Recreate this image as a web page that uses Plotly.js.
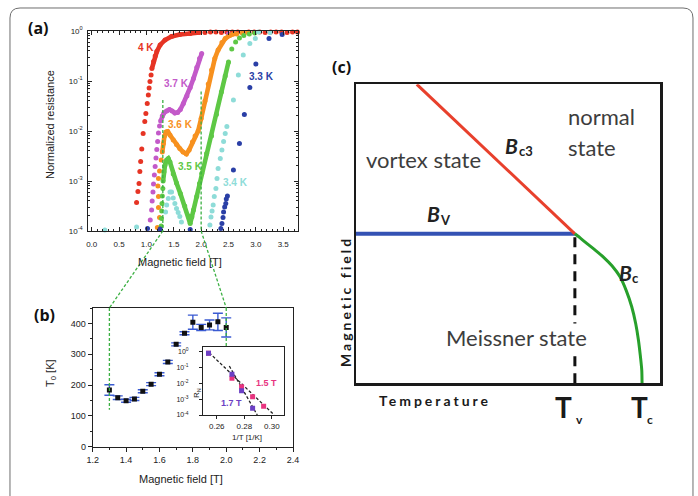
<!DOCTYPE html>
<html>
<head>
<meta charset="utf-8">
<script src="https://cdn.plot.ly/plotly-3.0.1.min.js"></script>
<style>
  html, body { margin: 0; padding: 0; background: #fff; }
  #fig { width: 698px; height: 496px; }
</style>
</head>
<body>
<div id="fig"></div>
<script>
// ---------- (a) normalized resistance vs field, stored as log10(R) ----------
// 4 K
const k40_lineB   = [1.10, 1.13, 1.16, 1.19, 1.25, 1.34, 1.46, 1.61, 1.80, 1.97];
const k40_lineLog = [-0.75, -0.61, -0.50, -0.41, -0.28, -0.18, -0.11, -0.07, -0.05, -0.03];
const k40_dotB    = [0.82, 0.845, 0.865, 0.88, 0.895, 0.915, 0.94, 0.97, 0.99, 1.015, 1.035, 1.05, 1.065, 1.085,
                     2.07, 2.17, 2.27, 2.37, 2.47, 2.57, 2.67, 2.77, 2.87, 2.97, 3.07, 3.17, 3.27, 3.37, 3.47, 3.57, 3.67, 3.76];
const k40_dotLog  = [-3.43, -3.21, -3.05, -2.81, -2.61, -2.36, -2.05, -1.81, -1.65, -1.45, -1.28, -1.14, -1.01, -0.88,
                     -0.03, -0.02, -0.02, -0.03, -0.02, -0.02, -0.02, -0.03, -0.02, -0.02, -0.02, -0.03, -0.02, -0.02, -0.02, -0.03, -0.02, -0.02];
// 3.7 K
const k37_lineB   = [1.26, 1.29, 1.32, 1.37, 1.42, 1.47, 1.52, 1.57, 1.62, 1.675, 1.74, 1.80, 1.86, 1.92, 1.97, 2.01];
const k37_lineLog = [-1.80, -1.70, -1.64, -1.60, -1.57, -1.60, -1.64, -1.63, -1.57, -1.45, -1.30, -1.13, -0.95, -0.73, -0.55, -0.45];
const k37_dotB    = [1.07, 1.095, 1.105, 1.12, 1.13, 1.145, 1.16, 1.175, 1.19, 1.205, 1.22, 1.24, 2.50];
const k37_dotLog  = [-3.78, -3.58, -3.40, -3.22, -3.06, -2.88, -2.71, -2.54, -2.37, -2.21, -2.04, -1.90, -0.06];
// 3.6 K
const k36_lineB   = [1.29, 1.31, 1.33, 1.36, 1.39, 1.43, 1.49, 1.55, 1.61, 1.67, 1.73, 1.78, 1.84, 1.89, 1.945, 2.00,
                     2.07, 2.13, 2.19, 2.25, 2.31, 2.38, 2.44, 2.52, 2.59];
const k36_lineLog = [-2.42, -2.25, -2.10, -2.02, -2.01, -2.08, -2.18, -2.27, -2.35, -2.42, -2.46, -2.38, -2.22, -2.10, -2.00, -1.75,
                     -1.40, -1.06, -0.78, -0.55, -0.38, -0.23, -0.15, -0.09, -0.06];
const k36_dotB    = [1.20, 1.24, 1.22, 1.22, 1.21, 1.22, 1.24, 1.27, 2.65, 2.75, 2.85];
const k36_dotLog  = [-3.93, -3.73, -3.53, -3.31, -3.10, -2.95, -2.80, -2.58, -0.06, -0.04, -0.03];
// 3.5 K
const k35_lineB   = [1.305, 1.32, 1.34, 1.37, 1.40, 1.43, 1.49, 1.55, 1.62, 1.70, 1.77, 1.80, 1.83, 1.86, 1.92, 1.97, 2.01,
                     2.10, 2.19, 2.28, 2.37, 2.44, 2.50];
const k35_lineLog = [-3.00, -2.82, -2.68, -2.58, -2.55, -2.62, -2.86, -3.04, -3.25, -3.50, -3.70, -3.85, -3.72, -3.58, -3.31, -3.05, -2.85,
                     -2.45, -2.10, -1.67, -1.22, -0.90, -0.62];
const k35_dotB    = [1.27, 1.275, 1.28, 1.285, 1.29, 1.30, 2.56, 2.63, 2.70, 2.78, 2.88, 2.98];
const k35_dotLog  = [-3.90, -3.75, -3.60, -3.45, -3.30, -3.15, -0.36, -0.22, -0.14, -0.09, -0.06, -0.04];
// 3.4 K
const k34_dotB    = [0.24, 0.82, 1.35, 1.37, 1.40, 1.43, 1.46, 1.49, 1.52, 1.55, 1.58, 1.61, 1.64,
                     2.16, 2.18, 2.20, 2.22, 2.24, 2.27, 2.29, 2.31, 2.35, 2.38, 2.41, 2.44, 2.47,
                     2.59, 2.68, 2.77, 2.89, 2.99, 3.05, 3.26];
const k34_dotLog  = [-3.98, -3.92, -3.62, -3.48, -3.35, -3.22, -3.22, -3.34, -3.45, -3.55, -3.63, -3.71, -3.82,
                     -3.88, -3.72, -3.60, -3.48, -3.31, -3.15, -2.95, -2.75, -2.55, -2.38, -2.21, -2.05, -1.91,
                     -1.38, -0.88, -0.48, -0.25, -0.15, -0.02, -0.03];
// 3.3 K
const k33_dotB    = [1.02, 1.25, 1.80, 2.36, 2.38, 2.40, 2.41, 2.43, 2.45, 2.46, 2.48, 2.59, 2.70, 2.79, 2.89, 3.00, 3.24, 3.48];
const k33_dotLog  = [-3.95, -3.96, -3.97, -3.95, -3.85, -3.73, -3.62, -3.52, -3.45, -3.36, -3.30, -2.78, -2.25, -1.67, -1.13, -0.66, -0.15, -0.07];

const aTickVals  = [0, 0.5, 1, 1.5, 2, 2.5, 3, 3.5];
const aTickText  = ['0.0', '0.5', '1.0', '1.5', '2.0', '2.5', '3.0', '3.5'];
const aDecades   = [-4, -3, -2, -1, 0];

// ---------- (b) T0 vs field ----------
const bField  = [1.30, 1.35, 1.40, 1.45, 1.50, 1.55, 1.60, 1.65, 1.70, 1.75, 1.80, 1.85, 1.90, 1.95, 2.00];
const bT0     = [184, 159, 149, 155, 180, 203, 235, 275, 332, 368, 404, 387, 395, 405, 387];
const bT0err  = [17, 6, 5, 5, 5, 5, 5, 5, 5, 5, 23, 10, 16, 28, 31];

// inset: R_N vs 1/T at 1.5 T and 1.7 T (log10 R_N)
const inv15   = [0.254, 0.271, 0.278, 0.286, 0.294];
const logRN15 = [-0.10, -1.68, -2.22, -2.85, -3.44];
const inv17   = [0.254, 0.271, 0.278, 0.286];
const logRN17 = [-0.10, -1.43, -2.47, -3.58];
const fit15x  = [0.2545, 0.3017];
const fit15y  = [-0.06, -4.0];
const fit17x  = [0.2691, 0.2894];
const fit17y  = [-0.905, -4.0];

// zoom window connecting (a) and (b)
const zoomFields   = [1.3, 2.0];
const zoomTopLogR  = [-1.38, -1.21];
const zoomLowT0    = [120, 323];

// ---------- (c) schematic phase diagram (normalized T, B) ----------
const bc3T = [0.20, 0.72];
const bc3B = [1.00, 0.50];
const bvT  = [0.00, 0.72];
const bvB  = [0.50, 0.50];
const bcT  = [0.720, 0.740, 0.759, 0.786, 0.813, 0.842, 0.868, 0.889, 0.907, 0.920, 0.929, 0.935, 0.940, 0.941];
const bcB  = [0.500, 0.484, 0.468, 0.446, 0.423, 0.393, 0.357, 0.310, 0.256, 0.200, 0.145, 0.095, 0.044, 0.000];
const tvT  = [0.72, 0.72];
const tvB  = [0.00, 0.50];

// ---------- geometry (pixels of the 698x496 canvas) ----------
const W = 698, H = 496;
const fx = p => p / W;
const fy = p => 1 - p / H;
const GA = {px0: 88.3, px1: 298, r0: -0.062, r1: 3.77, py0: 231, py1: 31, l0: -4, l1: 0};
const GB = {px0: 92.7, px1: 293, r0: 1.2, r1: 2.4, py0: 446.7, py1: 308, l0: 0, l1: 450};
const GI = {px0: 203, px1: 284.3, r0: 0.25, r1: 0.309, py0: 415, py1: 347.3, l0: -4, l1: 0.28};
const GC = {px0: 356, px1: 660, py0: 383.3, py1: 84.3};
const mapX = (g, v) => g.px0 + (v - g.r0) / (g.r1 - g.r0) * (g.px1 - g.px0);
const mapY = (g, v) => g.py0 + (v - g.l0) / (g.l1 - g.l0) * (g.py1 - g.py0);

const ARIAL = 'Liberation Sans, Arial, sans-serif';
const SANS  = 'Lato, Open Sans, sans-serif';
const pow10 = a => a.map(v => Math.pow(10, v));

// ---------- traces ----------
const traces = [];
const series = [
  {line: [k40_lineB, k40_lineLog], dot: [k40_dotB, k40_dotLog], color: '#e63424'},
  {line: [k37_lineB, k37_lineLog], dot: [k37_dotB, k37_dotLog], color: '#c35ac9'},
  {line: [k36_lineB, k36_lineLog], dot: [k36_dotB, k36_dotLog], color: '#f7911f'},
  {line: [k35_lineB, k35_lineLog], dot: [k35_dotB, k35_dotLog], color: '#5ec845'},
  {line: null,                     dot: [k34_dotB, k34_dotLog], color: '#8edcd8'},
  {line: null,                     dot: [k33_dotB, k33_dotLog], color: '#2a3fa6'}
];
series.forEach(s => {
  if (s.line) {
    traces.push({x: s.line[0], y: pow10(s.line[1]), xaxis: 'x', yaxis: 'y', mode: 'lines+markers',
      line: {color: s.color, width: 4.6}, marker: {color: s.color, size: 5}, cliponaxis: false, hoverinfo: 'skip'});
  }
  traces.push({x: s.dot[0], y: pow10(s.dot[1]), xaxis: 'x', yaxis: 'y', mode: 'markers',
    marker: {color: s.color, size: 5}, cliponaxis: false, hoverinfo: 'skip'});
});

traces.push({x: bField, y: bT0, xaxis: 'x2', yaxis: 'y2', mode: 'markers',
  marker: {symbol: 'square', size: 5, color: '#111'},
  error_y: {type: 'data', array: bT0err, color: '#3b5bd2', thickness: 1.4, width: 5},
  hoverinfo: 'skip'});

traces.push({x: fit15x, y: pow10(fit15y), xaxis: 'x3', yaxis: 'y3', mode: 'lines',
  line: {color: '#222', width: 1.3, dash: '3px,2px'}, hoverinfo: 'skip'});
traces.push({x: fit17x, y: pow10(fit17y), xaxis: 'x3', yaxis: 'y3', mode: 'lines',
  line: {color: '#222', width: 1.3, dash: '3px,2px'}, hoverinfo: 'skip'});
traces.push({x: inv15, y: pow10(logRN15), xaxis: 'x3', yaxis: 'y3', mode: 'markers',
  marker: {symbol: 'square', size: 5, color: '#e8347f'}, hoverinfo: 'skip'});
traces.push({x: inv17, y: pow10(logRN17), xaxis: 'x3', yaxis: 'y3', mode: 'markers',
  marker: {symbol: 'square', size: 5, color: '#6b40c4'}, hoverinfo: 'skip'});

traces.push({x: bvT, y: bvB, xaxis: 'x4', yaxis: 'y4', mode: 'lines',
  line: {color: '#3452b4', width: 4}, hoverinfo: 'skip'});
traces.push({x: bc3T, y: bc3B, xaxis: 'x4', yaxis: 'y4', mode: 'lines',
  line: {color: '#e8402c', width: 3}, hoverinfo: 'skip'});
traces.push({x: bcT, y: bcB, xaxis: 'x4', yaxis: 'y4', mode: 'lines',
  line: {color: '#27a02b', width: 3, shape: 'spline', smoothing: 0.6}, hoverinfo: 'skip'});
traces.push({x: tvT, y: tvB, xaxis: 'x4', yaxis: 'y4', mode: 'lines',
  line: {color: '#111', width: 3, dash: '10px,7px'}, hoverinfo: 'skip'});

// ---------- axes ----------
const aMinorX = [];
for (let i = 1; i <= 37; i++) { if (i % 5) aMinorX.push(i / 10); }
const aMinorY = [];
for (let d = -4; d < 0; d++) { for (let m = 2; m <= 9; m++) aMinorY.push(m * Math.pow(10, d)); }
const supLabel = d => '10<sup>' + d + '</sup>';

const common = {showgrid: false, zeroline: false, showline: true, linecolor: '#222', linewidth: 1,
  tickcolor: '#222', tickwidth: 1, fixedrange: true};

const layout = {
  width: W, height: H, margin: {l: 0, r: 0, t: 0, b: 0},
  paper_bgcolor: '#fff', plot_bgcolor: 'rgba(0,0,0,0)', showlegend: false,
  xaxis: Object.assign({}, common, {
    domain: [fx(GA.px0), fx(GA.px1)], range: [GA.r0, GA.r1], anchor: 'y', mirror: 'ticks',
    ticks: 'inside', ticklen: 4, tickmode: 'array', tickvals: aTickVals, ticktext: aTickText,
    minor: {tickmode: 'array', tickvals: aMinorX, ticks: 'inside', ticklen: 2, tickcolor: '#222'},
    tickfont: {family: ARIAL, size: 8, color: '#222'}, ticklabelstandoff: 5}),
  yaxis: Object.assign({}, common, {
    domain: [fy(GA.py0), fy(GA.py1)], type: 'log', range: [GA.l0, GA.l1], anchor: 'x', mirror: 'ticks',
    ticks: 'inside', ticklen: 4, tickmode: 'array', tickvals: pow10(aDecades), ticktext: aDecades.map(supLabel),
    minor: {tickmode: 'array', tickvals: aMinorY, ticks: 'inside', ticklen: 2, tickcolor: '#222'},
    tickfont: {family: ARIAL, size: 8, color: '#222'}, ticklabelstandoff: 3}),
  xaxis2: Object.assign({}, common, {
    domain: [fx(GB.px0), fx(GB.px1)], range: [GB.r0, GB.r1], anchor: 'y2', mirror: true,
    ticks: 'outside', ticklen: 4, tick0: 1.2, dtick: 0.2, tickformat: '.1f',
    minor: {tick0: 1.2, dtick: 0.1, ticks: 'outside', ticklen: 2, tickcolor: '#222'},
    tickfont: {family: ARIAL, size: 9, color: '#222'}}),
  yaxis2: Object.assign({}, common, {
    domain: [fy(GB.py0), fy(GB.py1)], range: [GB.l0, GB.l1], anchor: 'x2', mirror: true,
    ticks: 'outside', ticklen: 4, tick0: 0, dtick: 100,
    minor: {tick0: 0, dtick: 50, ticks: 'outside', ticklen: 2, tickcolor: '#222'},
    tickfont: {family: ARIAL, size: 9, color: '#222'}}),
  xaxis3: Object.assign({}, common, {
    domain: [fx(GI.px0), fx(GI.px1)], range: [GI.r0, GI.r1], anchor: 'y3', mirror: true,
    ticks: 'outside', ticklen: 3, tickmode: 'array', tickvals: [0.26, 0.28, 0.30], ticktext: ['0.26', '0.28', '0.30'],
    tickfont: {family: ARIAL, size: 8, color: '#222'}}),
  yaxis3: Object.assign({}, common, {
    domain: [fy(GI.py0), fy(GI.py1)], type: 'log', range: [GI.l0, GI.l1], anchor: 'x3', mirror: true,
    ticks: 'outside', ticklen: 3, tickmode: 'array', tickvals: pow10(aDecades), ticktext: aDecades.map(supLabel),
    tickfont: {family: ARIAL, size: 7, color: '#222'}, ticklabelstandoff: 9}),
  // the phase-diagram frame carries no ticks or tick labels at all
  xaxis4: Object.assign({}, common, {
    domain: [fx(GC.px0), fx(GC.px1)], range: [0, 1], anchor: 'y4', mirror: true, linewidth: 2.5,
    linecolor: '#1a1a1a', ticks: '', showticklabels: false, tickmode: 'array', tickvals: []}),
  yaxis4: Object.assign({}, common, {
    domain: [fy(GC.py0), fy(GC.py1)], range: [0, 1], anchor: 'x4', mirror: true, linewidth: 2.5,
    linecolor: '#1a1a1a', ticks: '', showticklabels: false, tickmode: 'array', tickvals: []}),
  shapes: [],
  annotations: []
};

// rounded outer frame
const P = (x, y) => fx(x).toFixed(4) + ',' + fy(y).toFixed(4);
layout.shapes.push({type: 'path', xref: 'paper', yref: 'paper', layer: 'below',
  path: 'M' + P(10, 515) + ' L' + P(10, 18) + ' Q' + P(10, 8) + ' ' + P(20, 8) +
        ' L' + P(683, 8) + ' Q' + P(693, 8) + ' ' + P(693, 18) + ' L' + P(693, 515),
  line: {color: '#6e6e6e', width: 1}});

// green dashed zoom window: verticals in (a), connectors, verticals in (b)
const greenDash = {color: '#3cb043', width: 1.3, dash: '3px,2px'};
const seg = (x0, y0, x1, y1) => layout.shapes.push({type: 'line', xref: 'paper', yref: 'paper', layer: 'above',
  x0: fx(x0), y0: fy(y0), x1: fx(x1), y1: fy(y1), line: greenDash});
zoomFields.forEach((f, i) => {
  const ax = mapX(GA, f), bx = mapX(GB, f);
  seg(ax, mapY(GA, zoomTopLogR[i]), ax, GA.py0);
  seg(ax, GA.py0, bx, GB.py1);
  seg(bx, GB.py1, bx, mapY(GB, zoomLowT0[i]));
});

// ---------- text ----------
const ann = (text, x, y, o) => layout.annotations.push(Object.assign({
  text: text, x: fx(x), y: fy(y), xref: 'paper', yref: 'paper', showarrow: false,
  xanchor: 'center', yanchor: 'middle', font: {family: ARIAL, size: 9, color: '#222'}}, o || {}));
const bold = (family, size, color, extra) => Object.assign({family: family, size: size, color: color, weight: 'bold'}, extra || {});

// panel letters
ann('(a)', 38, 28, {font: bold('Open Sans', 16, '#111')});
ann('(b)', 44, 315, {font: bold('Open Sans', 16, '#111')});
ann('(c)', 341, 67, {font: bold('Open Sans', 16, '#111')});

// (a) titles and curve labels
ann('Normalized resistance', 50, 125, {textangle: -90, font: {family: ARIAL, size: 11, color: '#222'}});
ann('Magnetic field [T]', 180, 262, {font: {family: ARIAL, size: 11, color: '#222'}});
const curveLabels = [
  ['4 K', 145.5, 47.5, '#e63424'], ['3.7 K', 176.7, 83.3, '#c35ac9'], ['3.6 K', 180, 124, '#f7911f'],
  ['3.5 K', 190, 166.7, '#5ec845'], ['3.4 K', 235, 182.5, '#8edcd8'], ['3.3 K', 261, 76.7, '#2a3fa6']];
curveLabels.forEach(c => ann(c[0], c[1], c[2], {font: bold(ARIAL, 10, c[3])}));

// (b) titles, inset labels
ann('T<sub>0</sub> [K]', 51, 373, {textangle: -90, font: {family: ARIAL, size: 11, color: '#222'}});
ann('Magnetic field [T]', 181, 479, {font: {family: ARIAL, size: 11, color: '#222'}});
ann('1/T [1/K]', 246.7, 437, {font: {family: ARIAL, size: 8, color: '#222'}});
ann('R<sub>N</sub>', 197, 393, {textangle: -90, font: {family: ARIAL, size: 8, color: '#222'}});
ann('1.5 T', 266.7, 382.7, {font: bold(ARIAL, 9, '#e8347f')});
ann('1.7 T', 231.7, 402.7, {font: bold(ARIAL, 9, '#6b40c4')});

// (c) region names and curve names
const grey = '#3d3d3d';
ann('normal', 566, 116, {xanchor: 'left', font: {family: SANS, size: 22, color: grey}});
ann('state', 566, 147, {xanchor: 'left', font: {family: SANS, size: 22, color: grey}});
ann('vortex state', 423, 160, {font: {family: SANS, size: 22, color: grey}});
ann('Meissner state', 516.5, 337, {bgcolor: '#fff', borderpad: 0, font: {family: SANS, size: 22, color: grey}});
ann('B', 511, 145, {font: bold(SANS, 21, '#222', {style: 'italic'})});
ann('c3', 525.5, 151, {font: bold(SANS, 13, '#222')});
ann('B', 433, 213.5, {font: bold(SANS, 21, '#222', {style: 'italic'})});
ann('V', 445.5, 220, {font: bold(SANS, 13, '#222')});
ann('B', 625, 272.5, {font: bold(SANS, 21, '#222', {style: 'italic'})});
ann('c', 635.5, 278, {font: bold(SANS, 13, '#222')});
ann('<span style="letter-spacing:3px">Temperature</span>', 435, 400, {font: bold(SANS, 14, '#1a1a1a')});
ann('<span style="letter-spacing:3px">Magnetic field</span>', 345, 302, {textangle: -90, font: bold(SANS, 14, '#1a1a1a')});
ann('T', 563, 406.5, {font: bold(SANS, 28, '#1a1a1a')});
ann('v', 579.5, 419, {font: bold(SANS, 12, '#1a1a1a')});
ann('T', 639, 406.5, {font: bold(SANS, 28, '#1a1a1a')});
ann('c', 650, 419, {font: bold(SANS, 12, '#1a1a1a')});

Plotly.newPlot('fig', traces, layout, {displayModeBar: false, staticPlot: true});
</script>
</body>
</html>
